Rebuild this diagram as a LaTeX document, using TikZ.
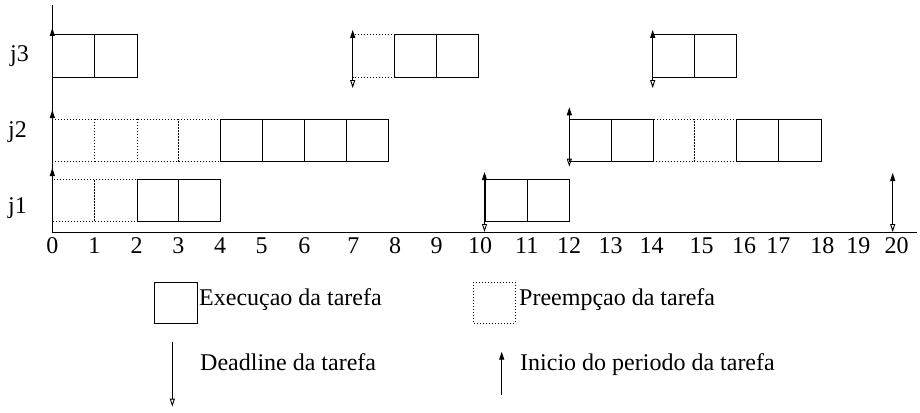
\documentclass[tikz,border=0pt]{standalone}
\usepackage{fontspec}
\setmainfont{Liberation Serif}
\usetikzlibrary{arrows.meta}

\begin{document}
\begin{tikzpicture}[x=1pt,y=-1pt,
  exec/.style={draw, line width=1pt},
  preempt/.style={draw, line width=1pt, dash pattern=on 1pt off 2pt},
  axis/.style={draw, line width=1pt},
  startarrow/.style={-{Triangle[length=8pt,width=5pt]}, line width=0.9pt},
  bothways/.style={{Triangle[open,length=8pt,width=5pt]}-{Triangle[length=8pt,width=5pt]}, line width=0.9pt},
  deadarrow/.style={-{Triangle[open,length=8pt,width=5pt]}, line width=0.9pt},
  txt/.style={font=\fontsize{24}{28}\selectfont, inner sep=0pt},
  lbl/.style={txt, anchor=base west},
  ticklbl/.style={txt, anchor=base}]
\useasboundingbox (0,0) rectangle (920,412);

% preempted slots (dotted), drawn first so solid edges sit on top
\foreach \a/\b in {352.7/394.3}
  \draw[preempt] (\a,35) rectangle (\b,77.5);
\foreach \a/\b in {52.3/94.7, 94.7/137, 137/178.7, 178.7/220.7, 653/694.3, 694.3/736.7}
  \draw[preempt] (\a,119.3) rectangle (\b,161.3);
\foreach \a/\b in {52.3/94.7, 94.7/137}
  \draw[preempt] (\a,179.5) rectangle (\b,221);

% executed slots
\foreach \a/\b in {52.3/94.7, 94.7/137, 394.3/436.7, 436.7/478.7, 652.7/694.3, 694.3/736.7}
  \draw[exec] (\a,35) rectangle (\b,77.5);
\foreach \a/\b in {220.7/262.7, 262.7/304.7, 304.7/346.7, 346.7/388.7, 569.3/611, 611/653, 736.7/778.7, 778.7/821}
  \draw[exec] (\a,119.3) rectangle (\b,161.3);
\foreach \a/\b in {137/178.7, 178.7/220.7, 485/527, 527/569}
  \draw[exec] (\a,179.5) rectangle (\b,221);

% axes
\draw[axis] (52.3,5.3) -- (52.3,232.3) -- (917,232.3);

% period starts at t = 0
\draw[startarrow] (52.3,77.5) -- (52.3,28);
\draw[startarrow] (52.3,161.3) -- (52.3,110);
\draw[startarrow] (52.3,221) -- (52.3,168);

% deadline / new period
\draw[bothways] (352.7,88) -- (352.7,30);
\draw[bothways] (652.7,88) -- (652.7,30);
\draw[bothways] (569.3,166.7) -- (569.3,107.3);
\draw[bothways] (484.5,232) -- (484.5,172);
\draw[bothways] (892.7,232) -- (892.7,173);

% task names
\node[lbl] (j3) at (10,61) {j3};
\node[lbl] (j2) at (8,137) {j2};
\node[lbl] (j1) at (8,213) {j1};

% time scale
\foreach \x/\t in {52.3/0, 94.3/1, 136.7/2, 178.3/3, 220/4, 261.7/5, 304.3/6, 353.3/7, 395/8, 436.7/9,
                   480/10, 526.7/11, 569/12, 610.7/13, 651.7/14, 701.7/15, 744/16, 778.3/17, 822.3/18, 858.3/19, 896.7/20}
  \node[ticklbl] (t\t) at (\x,253) {\t};

% legend
\draw[exec] (154,282) rectangle (197,323);
\node[lbl] (lexec) at (199,305) {Execuçao da tarefa};
\draw[preempt] (473.3,282) rectangle (515,323);
\node[lbl] (lpre) at (519,305) {Preempçao da tarefa};
\draw[deadarrow] (172.3,341.7) -- (172.3,406.7);
\node[lbl] (ldead) at (200,370) {Deadline da tarefa};
\draw[startarrow] (501.7,395) -- (501.7,351.7);
\node[lbl] (lstart) at (520,370) {Inicio do periodo da tarefa};
\end{tikzpicture}
\end{document}
